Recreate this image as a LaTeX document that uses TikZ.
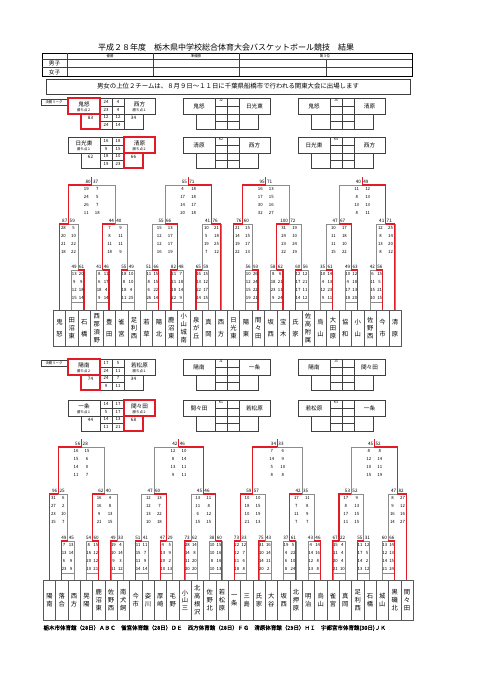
\documentclass[tikz,border=0pt]{standalone}
\usepackage{fontspec}
\setmainfont{Noto Sans CJK JP}
\newfontfamily\jpbold[FakeBold=1.2]{Noto Sans CJK JP}
\usetikzlibrary{positioning}
\definecolor{winred}{RGB}{226,28,38}
\newcounter{bc}
\newcounter{lc}
\tikzset{
  gline/.style={draw=black!45, line width=0.5pt},
  rline/.style={draw=winred, line width=1.2pt},
  rbox/.style={draw=winred, line width=1.1pt},
  cell/.style={draw=black!75, line width=0.45pt},
  sc/.style={font=\fontsize{4.6}{5}\selectfont, inner sep=0.2pt},
  qs/.style={font=\fontsize{4.3}{5}\selectfont, inner sep=0pt},
  tname/.style={draw=black!65, line width=0.5pt, anchor=north west, align=center, inner sep=0pt, font=\fontsize{6.3}{7.8}\selectfont},
  lname/.style={font=\fontsize{5.6}{6}\selectfont, inner sep=0pt},
  lsub/.style={font=\fontsize{3.4}{4}\selectfont, inner sep=0pt},
  jlab/.style={font=\fontsize{3.4}{4}\selectfont, inner sep=0pt},
}
\newcommand{\bout}[9]{%
  \stepcounter{bc}%
  \pgfmathsetmacro{\bxl}{\colx+(#1-0.5)*\colw}%
  \pgfmathsetmacro{\bxr}{\colx+(#2-0.5)*\colw}%
  \pgfmathsetmacro{\bxm}{(\bxl+\bxr)/2}%
  \pgfmathsetmacro{\bxq}{min(5.5,(\bxr-\bxl)/4+0.4)}%
  \draw[gline] (\bxl,#4) -- (\bxl,#3) -- (\bxr,#3) -- (\bxr,#5);
  \ifnum#6=0 \draw[rline] (\bxl,#4) -- (\bxl,#3) -- (\bxm,#3);
  \else \draw[rline] (\bxr,#5) -- (\bxr,#3) -- (\bxm,#3);\fi
  \node[sc,anchor=south east] (m\arabic{bc}l) at (\bxm-0.8,#3-1) {#7};
  \node[sc,anchor=south west] (m\arabic{bc}r) at (\bxm+0.8,#3-1) {#8};
  \foreach \a/\b [count=\k] in {#9} {
    \node[qs] (m\arabic{bc}a\k) at (\bxm-\bxq,{#3+7.8*\k-3.5}) {\a};
    \node[qs] (m\arabic{bc}b\k) at (\bxm+\bxq,{#3+7.8*\k-3.5}) {\b};
  }
}
\newcommand{\first}[5]{%
  \draw[gline] ({\colx+(#1-0.5)*\colw},\ybar+32) -- ({\colx+(#1+0.5)*\colw},\ybar+32);
  \bout{#1}{#1+1}{\ybar}{\ybot}{\ybot}{#2}{#3}{#4}{#5}}
\newcommand{\final}[9]{%
  \bout{#1}{#2}{#3}{#4}{#5}{#6}{#7}{#8}{#9}
  \draw[rline] (\bxm,#3) -- ++(0,-8);}
\newcommand{\league}[8]{%
  \stepcounter{lc}%
  \draw[cell] (#1,#2) rectangle ++(32,16) (#1+32,#2) rectangle ++(24,31) (#1+56,#2) rectangle ++(31,16)
    (#1+13,#2+16) rectangle ++(19,15) (#1+56,#2+16) rectangle ++(19,15) (#1+44,#2) -- ++(0,31)
    (#1+32,#2+8) -- ++(24,0) (#1+32,#2+16) -- ++(24,0) (#1+32,#2+23.5) -- ++(24,0);
  \ifnum#7=1 \draw[rbox] (#1,#2) rectangle ++(32,16) (#1+13,#2+16) rectangle ++(19,15);\fi
  \ifnum#7=2 \draw[rbox] (#1+56,#2) rectangle ++(31,16) (#1+56,#2+16) rectangle ++(19,15);\fi
  \def\tmp{#4}%
  \ifx\tmp\empty
    \node[lname] (lg\arabic{lc}a) at (#1+16,#2+8) {#3};
    \node[lname] (lg\arabic{lc}b) at (#1+71.5,#2+8) {#5};
  \else
    \node[lname] (lg\arabic{lc}a) at (#1+16,#2+6) {#3};
    \node[lsub] (lg\arabic{lc}c) at (#1+16,#2+12) {#4};
    \node[lname] (lg\arabic{lc}b) at (#1+71.5,#2+6) {#5};
    \node[lsub] (lg\arabic{lc}d) at (#1+71.5,#2+12) {#6};
  \fi
  \node[jlab] (lg\arabic{lc}j) at (#1+38,#2+2.5) {#8};
}
\newcommand{\lgs}[5]{%
  \foreach \a/\b [count=\k] in {#3} {
    \node[qs] (lg\arabic{lc}p\k) at (#1+38,{#2+7.8*\k-4}) {\a};
    \node[qs] (lg\arabic{lc}q\k) at (#1+50,{#2+7.8*\k-4}) {\b};
  }
  \node[sc] (lg\arabic{lc}s) at (#1+22.5,#2+19.5) {#4};
  \node[sc] (lg\arabic{lc}t) at (#1+65.5,#2+19.5) {#5};
}

\begin{document}
\begin{tikzpicture}[x=1pt,y=-1pt]
\fill[white] (0,0) rectangle (481,680);
\useasboundingbox (0,0) rectangle (481,680);
\node (title) at (226,47) {\fontsize{8}{9}\selectfont 平成２８年度　栃木県中学校総合体育大会バスケットボール競技　結果};
\draw[line width=0.9pt] (42,53) rectangle (412,76);
\draw[cell] (42,59) -- (412,59) (42,67.5) -- (412,67.5) (67,53) -- (67,76) (153,53) -- (153,76) (239,53) -- (239,76) (326,59) -- (326,76);
\node[jlab] (win1) at (110,56) {優勝};
\node[jlab] (win2) at (196,56) {準優勝};
\node[jlab] (win3) at (325,56) {第３位};
\node[lname] (boys) at (54.5,63.5) {男子};
\node[lname] (girls) at (54.5,72) {女子};
\draw[cell] (46,79) rectangle (410,94);
\node[font=\fontsize{6.4}{7}\selectfont] (note) at (228,86.5) {男女の上位２チームは、８月９日～１１日に千葉県船橋市で行われる関東大会に出場します};

\draw[cell] (41,99) rectangle (67,105);
\node[jlab] (bleague) at (54,102) {決勝リーグ};
\league{68}{98}{鬼怒}{勝ち点２}{西方}{勝ち点１}{1}{}
\lgs{68}{98}{24/4,23/4,12/12,24/14}{83}{34}
\league{68}{137}{日光東}{勝ち点１}{清原}{勝ち点２}{2}{}
\lgs{68}{137}{16/18,9/15,18/10,19/23}{62}{66}
\league{183}{98}{鬼怒}{}{日光東}{}{0}{J2}
\league{298}{98}{鬼怒}{}{清原}{}{0}{J4}
\league{183}{137}{清原}{}{西方}{}{0}{K2}
\league{298}{137}{日光東}{}{西方}{}{0}{K4}

\def\colx{53}\def\colw{12.43}\def\ybar{270}\def\ybot{310}
\foreach \n [count=\i] in {鬼\\[4pt]怒,田\\沼\\東,石\\[4pt]橋,西\\那\\須\\野,豊\\[4pt]田,雀\\[4pt]宮,足\\利\\西,若\\[4pt]草,陽\\[4pt]北,鹿\\沼\\東,小\\山\\城\\南,泉\\が\\丘,真\\[4pt]岡,西\\[4pt]方,日\\光\\東,陽\\[4pt]東,間\\々\\田,坂\\[4pt]西,宝\\[4pt]木,氏\\[4pt]家,佐\\高\\附\\属,烏\\[4pt]山,大\\田\\原,協\\[4pt]和,小\\[4pt]山,佐\\野\\西,今\\[4pt]市,清\\[4pt]原}
  \node[tname, minimum width=12.43pt, minimum height=36pt] (b\i) at ({53+(\i-1)*12.43},310) {\n};
\final{1.75}{5.5}{185}{224}{224}{0}{80}{37}{19/7,24/5,26/7,11/18}
\final{9.5}{13.25}{185}{224}{224}{1}{55}{71}{4/18,17/18,14/17,20/18}
\final{15.75}{19.5}{185}{224}{224}{0}{95}{71}{16/13,17/15,30/16,32/27}
\final{23.5}{27.25}{185}{224}{224}{1}{40}{49}{11/12,8/13,13/13,8/11}
\bout{1}{2.5}{224}{\ybot}{\ybar}{0}{87}{59}{28/5,20/10,21/22,18/22}
\bout{4.5}{6.5}{224}{\ybar}{\ybar}{0}{44}{40}{7/9,8/11,11/11,18/9}
\bout{8.5}{10.5}{224}{\ybar}{\ybar}{1}{55}{66}{15/13,12/17,12/17,16/19}
\bout{12.5}{14}{224}{\ybar}{\ybot}{1}{41}{76}{10/21,5/18,19/25,7/12}
\bout{15}{16.5}{224}{\ybot}{\ybar}{0}{76}{60}{21/15,14/15,19/17,22/13}
\bout{18.5}{20.5}{224}{\ybar}{\ybar}{0}{100}{72}{31/19,24/10,23/24,22/19}
\bout{22.5}{24.5}{224}{\ybar}{\ybar}{1}{47}{67}{10/17,11/18,11/10,15/22}
\bout{26.5}{28}{224}{\ybar}{\ybot}{1}{41}{71}{12/25,8/14,13/20,8/12}
\first{2}{1}{49}{61}{13/20,9/9,12/18,15/14}
\first{4}{1}{41}{46}{8/11,6/17,18/4,9/14}
\first{6}{0}{55}{49}{18/10,8/10,18/4,11/25}
\first{8}{1}{51}{66}{11/15,8/15,6/22,26/14}
\first{10}{0}{82}{48}{21/7,21/18,18/14,22/9}
\first{12}{0}{65}{59}{16/15,13/12,22/17,14/15}
\first{16}{1}{56}{93}{10/26,12/24,15/22,19/21}
\first{18}{1}{58}{62}{8/6,18/21,23/11,9/24}
\first{20}{0}{60}{56}{12/12,17/21,17/11,14/12}
\first{22}{1}{35}{61}{10/14,4/13,12/23,9/11}
\first{24}{1}{49}{63}{10/12,4/18,17/13,18/20}
\first{26}{1}{42}{56}{6/15,11/5,15/21,10/15}

\draw[cell] (41,360) rectangle (67,366);
\node[jlab] (gleague) at (54,363) {決勝リーグ};
\league{68}{359}{陽南}{勝ち点２}{若松原}{勝ち点１}{1}{}
\lgs{68}{359}{17/5,24/11,24/7,9/11}{74}{34}
\league{68}{400}{一条}{勝ち点１}{間々田}{勝ち点２}{2}{}
\lgs{68}{400}{14/17,5/17,14/13,11/21}{44}{68}
\league{183}{359}{陽南}{}{一条}{}{0}{J1}
\league{298}{359}{陽南}{}{間々田}{}{0}{J3}
\league{183}{400}{間々田}{}{若松原}{}{0}{K1}
\league{298}{400}{若松原}{}{一条}{}{0}{K3}

\def\colx{43}\def\colw{12.33}\def\ybar{541}\def\ybot{580}
\foreach \n [count=\i] in {陽\\南,落\\合,西\\方,晃\\陽,鹿\\沼\\東,佐\\野\\西,南\\犬\\飼,今\\市,姿\\川,厚\\崎,毛\\野,小\\山\\三,北\\高\\根\\沢,佐\\野\\北,若\\松\\原,一\\条,三\\島,氏\\家,大\\谷,坂\\西,北\\押\\原,明\\治,烏\\山,雀\\宮,真\\岡,足\\利\\西,石\\橋,城\\山,黒\\磯\\北,間\\々\\田}
  \node[tname, minimum width=12.33pt, minimum height=40pt] (g\i) at ({43+(\i-1)*12.33},580) {\n};
\final{1.75}{5.5}{447}{494}{494}{0}{56}{28}{16/15,15/6,14/0,11/7}
\final{9.5}{13.5}{447}{494}{494}{1}{42}{46}{12/10,8/14,13/11,9/11}
\final{17.5}{21.5}{447}{494}{494}{0}{34}{33}{7/6,14/9,5/10,8/8}
\final{25.5}{29.25}{447}{494}{494}{1}{45}{52}{8/8,12/14,10/11,15/19}
\bout{1}{2.5}{494}{\ybot}{\ybar}{0}{96}{25}{31/6,27/2,23/10,15/7}
\bout{4.5}{6.5}{494}{\ybar}{\ybar}{0}{62}{40}{16/4,16/8,9/13,21/15}
\bout{8.5}{10.5}{494}{\ybar}{\ybar}{1}{47}{60}{12/13,12/7,13/22,10/18}
\bout{12.5}{14.5}{494}{\ybar}{\ybar}{1}{45}{46}{13/11,11/8,6/12,15/15}
\bout{16.5}{18.5}{494}{\ybar}{\ybar}{0}{59}{57}{10/10,18/15,10/19,21/13}
\bout{20.5}{22.5}{494}{\ybar}{\ybar}{0}{42}{35}{17/11,7/8,11/9,7/7}
\bout{24.5}{26.5}{494}{\ybar}{\ybar}{0}{53}{52}{17/9,8/13,17/15,11/15}
\bout{28.5}{30}{494}{\ybar}{\ybot}{1}{47}{82}{8/27,9/12,16/16,14/27}
\first{2}{0}{49}{45}{7/13,13/14,6/9,23/9}
\first{4}{1}{54}{60}{8/15,16/12,20/12,10/21}
\first{6}{0}{49}{33}{19/4,10/14,9/3,11/12}
\first{8}{0}{51}{41}{11/11,15/7,11/9,14/14}
\first{10}{0}{47}{29}{4/5,13/9,20/2,10/13}
\first{12}{0}{73}{62}{28/14,14/8,11/20,20/20}
\first{14}{1}{38}{60}{10/15,10/16,8/16,10/13}
\first{16}{0}{73}{33}{22/12,12/7,21/6,18/8}
\first{18}{0}{75}{43}{31/16,10/14,14/11,20/2}
\first{20}{1}{37}{61}{19/5,4/22,6/10,8/24}
\first{22}{1}{43}{46}{4/14,14/16,12/8,13/8}
\first{24}{0}{67}{22}{15/4,11/4,20/4,21/10}
\first{26}{0}{55}{31}{11/12,17/5,14/2,13/12}
\first{28}{1}{60}{66}{13/14,12/13,14/15,21/24}

\node[anchor=west, font=\jpbold\fontsize{5.5}{6}\selectfont] (venue) at (40,628) {栃木市体育館（28日）ＡＢＣ　雀宮体育館（28日）ＤＥ　西方体育館（28日）ＦＧ　清原体育館（29日）ＨＩ　宇都宮市体育館(30日)ＪＫ};
\end{tikzpicture}
\end{document}
